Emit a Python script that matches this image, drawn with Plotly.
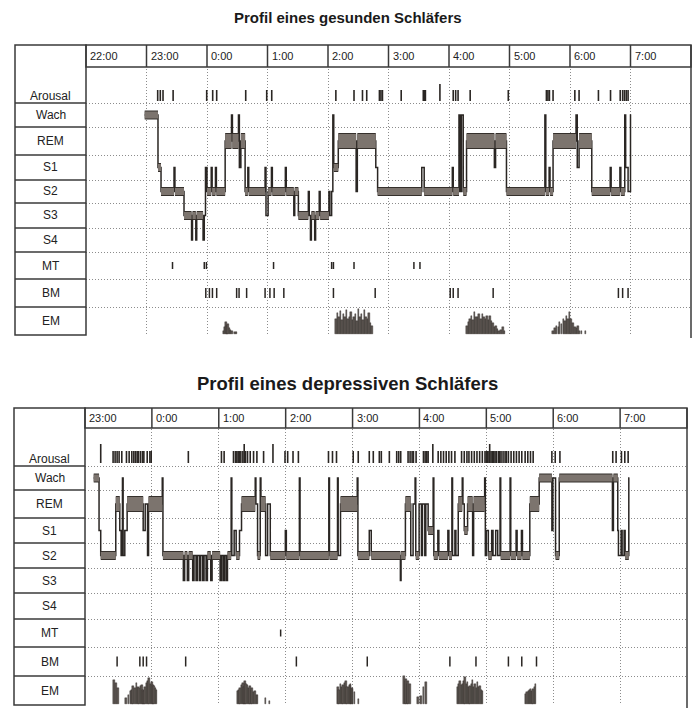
import plotly.graph_objects as go

# ======================= DATA =======================
row_names = ["Arousal", "Wach", "REM", "S1", "S2", "S3", "S4", "MT", "BM", "EM"]
stage_row = {"W": "Wach", "R": "REM", "S1": "S1", "S2": "S2", "S3": "S3", "S4": "S4"}

titles = ["Profil eines gesunden Schläfers", "Profil eines depressiven Schläfers"]

# ---- healthy sleeper (hours after midnight of previous day: 24 = 0:00) ----
h_hours = [22, 23, 24, 25, 26, 27, 28, 29, 30, 31]
h_hour_labels = ["22:00", "23:00", "0:00", "1:00", "2:00", "3:00", "4:00", "5:00", "6:00", "7:00"]

h_hyp_t = [22.97, 23.19, 23.24, 23.455, 23.47, 23.62, 23.745, 23.76, 23.815, 23.83,
           23.935, 23.955, 23.975, 24.00, 24.07, 24.085, 24.14, 24.155, 24.30, 24.405,
           24.42, 24.52, 24.535, 24.56, 24.63, 24.675, 24.69, 24.96, 24.975, 25.01,
           25.065, 25.08, 25.295, 25.31, 25.435, 25.45, 25.51, 25.675, 25.69, 25.71,
           25.725, 25.78, 25.795, 25.855, 25.87, 26.015, 26.03, 26.06, 26.08, 26.095,
           26.17, 26.465, 26.485, 26.79, 26.82, 27.55, 27.59, 28.055, 28.07, 28.165,
           28.18, 28.205, 28.235, 28.29, 28.75, 28.77, 28.95, 29.585, 29.60, 29.655,
           29.67, 29.72, 30.10, 30.12, 30.15, 30.36, 30.665, 30.68, 30.825, 30.84,
           30.905, 30.92, 30.96, 31.00]
h_hyp_s = ["W", "S1", "S2", "S1", "S2", "S3", "S4", "S3", "S4", "S3",
           "S4", "S3", "S1", "S2", "S1", "S2", "S1", "S2", "R", "W",
           "R", "W", "S1", "R", "S2", "S1", "S2", "S1", "S3", "S2",
           "S1", "S2", "S1", "S2", "S3", "S2", "S3", "S2", "S3", "S4",
           "S3", "S4", "S3", "S2", "S3", "S2", "S3", "S2", "W", "S1",
           "R", "S2", "R", "S1", "S2", "S1", "S2", "S1", "S2", "W",
           "S2", "W", "S2", "R", "S1", "R", "S2", "W", "S2", "S1",
           "S2", "R", "W", "S1", "R", "S2", "S1", "S2", "S1", "S2",
           "W", "S1", "S2", "W"]
h_hyp_end = 31.012

h_arousal = [23.185, 23.228, 23.273, 23.44, 23.995, 24.094, 24.16, 24.64, 24.987, 25.07,
             26.13, 26.43, 26.57, 26.64, 26.85, 26.875, 26.90, 27.21, 27.575, 27.595,
             27.61, 28.07, 28.11, 28.15, 28.35, 28.98, 29.61, 29.635, 29.66, 29.72,
             30.08, 30.15, 30.47, 30.67, 30.83, 30.87, 30.90, 30.93, 30.96]
h_arousal_tall = [27.85]
h_mt = [23.43, 23.955, 23.99, 25.10, 26.06, 26.09, 26.43, 27.42, 27.52]
h_bm = [23.98, 24.04, 24.09, 24.16, 24.49, 24.53, 24.655, 24.96, 25.04, 25.11, 25.27,
        26.09, 26.78, 28.02, 28.07, 28.15, 28.73, 30.80, 30.87, 30.96]
h_em_t = [24.27, 24.29, 24.31, 24.33, 24.35, 24.37, 24.39, 24.41, 24.46, 24.49,
          26.13, 26.155, 26.18, 26.205, 26.23, 26.255, 26.28, 26.305, 26.33, 26.355,
          26.38, 26.405, 26.43, 26.455, 26.48, 26.505, 26.53, 26.555, 26.58, 26.605,
          26.63, 26.655, 26.68, 26.705, 26.73,
          28.30, 28.325, 28.35, 28.375, 28.40, 28.425, 28.45, 28.475, 28.50, 28.525,
          28.55, 28.575, 28.60, 28.625, 28.65, 28.675, 28.70, 28.725, 28.75, 28.775,
          28.80, 28.83, 28.86, 28.89, 28.915,
          29.72, 29.75, 29.78, 29.81, 29.83, 29.86, 29.89, 29.915, 29.94, 29.965,
          29.99, 30.02, 30.05, 30.08, 30.11, 30.13, 30.16, 30.19, 30.26]
h_em_v = [0.12, 0.25, 0.42, 0.30, 0.36, 0.20, 0.14, 0.10, 0.08, 0.08,
          0.55, 0.75, 0.60, 0.82, 0.50, 0.70, 0.62, 0.85, 0.55, 0.60,
          0.78, 0.50, 0.62, 0.72, 0.45, 0.90, 0.60, 0.72, 0.50, 0.85,
          0.62, 0.55, 0.75, 0.40, 0.30,
          0.30, 0.42, 0.55, 0.65, 0.50, 0.77, 0.62, 0.60, 0.70, 0.55,
          0.71, 0.60, 0.54, 0.65, 0.50, 0.65, 0.48, 0.40, 0.24, 0.30,
          0.18, 0.12, 0.15, 0.24, 0.10,
          0.12, 0.20, 0.30, 0.25, 0.42, 0.35, 0.54, 0.45, 0.65, 0.55,
          0.80, 0.54, 0.40, 0.24, 0.20, 0.30, 0.10, 0.12, 0.10]

# ---- depressive sleeper ----
d_hours = [23, 24, 25, 26, 27, 28, 29, 30, 31]
d_hour_labels = ["23:00", "0:00", "1:00", "2:00", "3:00", "4:00", "5:00", "6:00", "7:00"]

d_hyp_t = [23.13, 23.21, 23.235, 23.46, 23.52, 23.54, 23.56, 23.57, 23.595, 23.63,
           23.87, 23.90, 23.935, 23.95, 24.155, 24.165,
           24.47, 24.49, 24.53, 24.55, 24.61, 24.63, 24.66, 24.68, 24.71, 24.73,
           24.76, 24.78, 24.81, 24.83, 24.88, 24.90, 25.02, 25.04, 25.065, 25.085,
           25.11, 25.13, 25.185, 25.195, 25.23, 25.26, 25.31, 25.34, 25.545, 25.555,
           25.58, 25.62, 25.63, 25.70, 25.73, 25.77, 25.995, 26.01, 26.205, 26.215,
           26.645, 26.655, 26.775, 26.785, 26.82, 27.07, 27.08, 27.25, 27.28, 27.715,
           27.725, 27.79, 27.87, 27.905, 27.935, 27.945, 27.995, 28.03, 28.045, 28.08,
           28.095, 28.13, 28.205, 28.215, 28.275, 28.29, 28.425, 28.44, 28.485, 28.495,
           28.53, 28.545, 28.58, 28.64, 28.65, 28.67, 28.72, 28.795, 28.81, 28.975,
           28.985, 29.00, 29.03, 29.08, 29.10, 29.14, 29.17, 29.205, 29.215, 29.355,
           29.365, 29.445, 29.46, 29.525, 29.54, 29.65, 29.79, 29.98, 29.995, 30.035,
           30.09, 30.885, 30.90, 30.965, 30.975, 31.015, 31.03, 31.06, 31.075, 31.13]
d_hyp_s = ["W", "S1", "S2", "R", "S1", "S2", "W", "S2", "S1", "R",
           "S1", "R", "S2", "R", "W", "S2",
           "S3", "S2", "S3", "S2", "S3", "S2", "S3", "S2", "S3", "S2",
           "S3", "S2", "S3", "S2", "S3", "S2", "S3", "S2", "S3", "S2",
           "S3", "S2", "W", "S2", "S1", "S2", "S1", "R", "W", "R",
           "S2", "W", "R", "S2", "R", "S2", "S1", "S2", "W", "S2",
           "W", "S2", "W", "S2", "R", "W", "S2", "S1", "S2", "S3",
           "S2", "R", "S2", "R", "W", "S2", "R", "S2", "R", "S2",
           "R", "S1", "W", "S2", "S1", "S2", "S1", "S2", "W", "S2",
           "S1", "S2", "R", "W", "R", "S1", "R", "S2", "R", "W",
           "S2", "S1", "S2", "S1", "S2", "S1", "S2", "W", "S2", "W",
           "S2", "S1", "S2", "S1", "S2", "R", "W", "S1", "W", "S2",
           "W", "S1", "W", "S1", "S2", "S1", "S2", "S1", "S2", "W"]
d_hyp_end = 31.14

d_arousal = [23.42, 23.45, 23.48, 23.51, 23.55, 23.62, 23.66, 23.70, 23.73, 23.755,
             23.78, 23.80, 23.83, 23.86, 23.88, 23.93, 23.97, 23.99, 24.545,
             25.04, 25.08, 25.22, 25.25, 25.27, 25.29, 25.31, 25.33, 25.36, 25.40,
             25.43, 25.47, 25.52, 25.57, 25.67, 25.99, 26.03, 26.11, 26.19,
             26.64, 26.70, 26.76, 27.01, 27.085, 27.25, 27.31, 27.40, 27.43, 27.55,
             27.66, 27.69, 27.72, 27.83, 27.86, 27.89, 27.91, 27.95, 28.06, 28.085,
             28.11, 28.13, 28.28, 28.32, 28.36, 28.40, 28.44, 28.48, 28.53,
             28.63, 28.67, 28.71, 28.74, 28.78, 28.82, 28.86, 28.90, 28.94,
             28.98, 29.00, 29.02, 29.04, 29.07, 29.09, 29.11, 29.13, 29.15, 29.18,
             29.20, 29.22, 29.25, 29.28, 29.30, 29.33, 29.37, 29.41, 29.45, 29.49,
             29.53, 29.58, 29.62, 29.66, 29.70, 29.98, 30.03, 30.10,
             30.89, 30.94, 31.02, 31.07, 31.12]
d_arousal_tall = [23.235, 25.38, 25.81, 28.20, 29.05]
d_mt = [25.925]
d_bm = [23.48, 23.82, 23.87, 23.92, 24.505, 26.16, 27.22, 28.455, 28.845, 29.33, 29.53, 29.75]
d_em_t = [23.43, 23.46, 23.49,
          23.61, 23.65, 23.68, 23.70, 23.72, 23.75, 23.77, 23.79, 23.81, 23.83,
          23.85, 23.87, 23.88, 23.90, 23.92, 23.94, 23.96, 23.98, 24.00, 24.02,
          24.03, 24.05, 24.07,
          25.28, 25.30, 25.32, 25.34, 25.36, 25.38, 25.39, 25.41, 25.43, 25.45,
          25.47, 25.49, 25.50, 25.52, 25.54, 25.56, 25.58, 25.70, 25.755,
          26.78, 26.80, 26.82, 26.84, 26.86, 26.88, 26.90, 26.92, 26.94, 26.96,
          26.97, 26.99, 27.00, 27.03, 27.085,
          27.77, 27.79, 27.80, 27.82, 27.83, 27.86, 27.98, 28.02, 28.06, 28.10,
          28.565, 28.585, 28.605, 28.625, 28.645, 28.665, 28.68, 28.70, 28.72, 28.74,
          28.755, 28.775, 28.795, 28.81, 28.83, 28.85, 28.865, 28.885, 28.905, 28.925,
          28.945,
          29.587, 29.607, 29.627, 29.645, 29.66, 29.68, 29.70, 29.72, 29.735]
d_em_v = [0.83, 0.72, 0.55,
          0.20, 0.32, 0.44, 0.50, 0.61, 0.55, 0.72, 0.60, 0.55, 0.62,
          0.67, 0.50, 0.44, 0.60, 0.72, 0.80, 0.90, 0.70, 0.76, 0.65,
          0.61, 0.55, 0.50,
          0.44, 0.50, 0.55, 0.65, 0.72, 0.60, 0.78, 0.70, 0.67, 0.55,
          0.61, 0.50, 0.55, 0.40, 0.44, 0.30, 0.32, 0.20, 0.12,
          0.60, 0.50, 0.70, 0.60, 0.65, 0.72, 0.78, 0.60, 0.57, 0.65,
          0.70, 0.55, 0.52, 0.40, 0.17,
          0.95, 0.80, 0.86, 0.70, 0.80, 0.69, 0.23, 0.29, 0.57, 0.75,
          0.57, 0.70, 0.80, 0.65, 0.69, 0.80, 0.92, 0.70, 0.75, 0.60,
          0.63, 0.70, 0.83, 0.60, 0.69, 0.55, 0.75, 0.60, 0.63, 0.50,
          0.46,
          0.34, 0.40, 0.46, 0.50, 0.52, 0.45, 0.52, 0.60, 0.69]

# ======================= LAYOUT / STYLE =======================
W, H = 695, 722
INK = "#2a2623"
BAND_EDGE = "#35302c"
BAND_FILL = "#7c746e"
FRAME = "#3a3a3a"
GRID = "#8c8c8c"
GRID_DASH = "1px,2px"
FONT = "Liberation Sans, Arial, sans-serif"

panels = [
    dict(top=45, edges=[67, 103, 127, 155, 180, 203, 228, 252, 279, 307, 335],
         left=15, col=86, right=691, xr=[22, 32], title_y=18, title_size=15,
         ar=(2, 13, 19), em_w=0.025),
    dict(top=408, edges=[428, 466, 490, 518, 543, 568, 593, 619, 647, 676, 705],
         left=14, col=85, right=687, xr=[23, 32], title_y=383, title_size=18.5,
         ar=(3, 15, 22), em_w=0.022),
]

datasets = [
    dict(hours=h_hours, labels=h_hour_labels, t=h_hyp_t, s=h_hyp_s, end=h_hyp_end,
         ar=h_arousal, ar_tall=h_arousal_tall, mt=h_mt, bm=h_bm, em_t=h_em_t, em_v=h_em_v),
    dict(hours=d_hours, labels=d_hour_labels, t=d_hyp_t, s=d_hyp_s, end=d_hyp_end,
         ar=d_arousal, ar_tall=d_arousal_tall, mt=d_mt, bm=d_bm, em_t=d_em_t, em_v=d_em_v),
]


def px(x):
    return x / W


def py(y):
    return 1 - y / H


def center(p, name):
    i = row_names.index(name)
    e = p["edges"]
    return (e[i] + e[i + 1]) / 2


def tick_xy(times, y0, y1):
    xs, ys = [], []
    for t in times:
        xs += [t, t, None]
        ys += [y0, y1, None]
    return xs, ys


fig = go.Figure()
shapes, annotations = [], []
layout_axes = {}

for k, (p, d) in enumerate(zip(panels, datasets), start=1):
    xa = "x" if k == 1 else f"x{k}"
    ya = "y" if k == 1 else f"y{k}"
    e = p["edges"]
    common = dict(xaxis=xa, yaxis=ya, hoverinfo="skip", showlegend=False)

    # --- hypnogram thin step line ---
    ys = [center(p, stage_row[s]) for s in d["s"]]
    fig.add_trace(go.Scatter(x=d["t"] + [d["end"]], y=ys + [ys[-1]], mode="lines",
                             line=dict(shape="hv", color=INK, width=1.5), **common))
    # --- hypnogram bands ---
    for rem in (False, True):
        bx, by = [], []
        for i, (t, s) in enumerate(zip(d["t"], d["s"])):
            t1 = d["t"][i + 1] if i + 1 < len(d["t"]) else d["end"]
            if t1 - t < 0.04 or (s == "R") != rem:
                continue
            yc = center(p, stage_row[s])
            bx += [t, t1, None]
            by += [yc, yc, None]
        w = 14 if rem else 7
        fig.add_trace(go.Scatter(x=bx, y=by, mode="lines",
                                 line=dict(color=BAND_EDGE, width=w + 2), **common))
        fig.add_trace(go.Scatter(x=bx, y=by, mode="lines",
                                 line=dict(color=BAND_FILL, width=w), **common))

    # --- arousal ticks ---
    b0, b1, b2 = p["ar"]
    xs, yv = tick_xy(d["ar"], e[1] - b0, e[1] - b1)
    fig.add_trace(go.Scatter(x=xs, y=yv, mode="lines", line=dict(color=INK, width=1.6), **common))
    xs, yv = tick_xy(d["ar_tall"], e[1] - b0, e[1] - b2)
    fig.add_trace(go.Scatter(x=xs, y=yv, mode="lines", line=dict(color=INK, width=1.6), **common))
    # --- MT / BM ticks ---
    c = center(p, "MT")
    xs, yv = tick_xy(d["mt"], c - 3.5, c + 3.5)
    fig.add_trace(go.Scatter(x=xs, y=yv, mode="lines", line=dict(color=INK, width=1.5), **common))
    c = center(p, "BM")
    xs, yv = tick_xy(d["bm"], c - 5, c + 5)
    fig.add_trace(go.Scatter(x=xs, y=yv, mode="lines", line=dict(color=INK, width=1.5), **common))
    # --- EM bars ---
    em_h = e[10] - e[9]
    fig.add_trace(go.Bar(x=d["em_t"], y=[-v * em_h for v in d["em_v"]], base=e[10] - 1,
                         width=p["em_w"], marker=dict(color="#5e5752",
                                                      line=dict(color=INK, width=0.4)),
                         **common))

    # --- axes ---
    layout_axes["xaxis" if k == 1 else f"xaxis{k}"] = dict(
        domain=[px(p["col"]), px(p["right"])], range=p["xr"], anchor=ya,
        tickvals=d["hours"], showticklabels=False, ticks="", showline=False,
        zeroline=False, showgrid=True, gridcolor=GRID, griddash=GRID_DASH, gridwidth=1)
    layout_axes["yaxis" if k == 1 else f"yaxis{k}"] = dict(
        domain=[py(e[-1]), py(p["top"])], range=[e[-1], p["top"]], anchor=xa,
        tickvals=e[1:], showticklabels=False, ticks="", showline=False,
        zeroline=False, showgrid=True, gridcolor=GRID, griddash=GRID_DASH, gridwidth=1)

    # --- frame shapes ---
    line = dict(color=FRAME, width=1.5)
    # label column box
    shapes.append(dict(type="rect", xref="paper", yref="paper", x0=px(p["left"]), x1=px(p["col"]),
                       y0=py(e[-1]), y1=py(p["top"]), line=line, layer="above"))
    for yb in e[1:-1]:
        shapes.append(dict(type="line", xref="paper", yref="paper", x0=px(p["left"]), x1=px(p["col"]),
                           y0=py(yb), y1=py(yb), line=line, layer="above"))
    # header box
    shapes.append(dict(type="rect", xref="paper", yref="paper", x0=px(p["col"]), x1=px(p["right"]),
                       y0=py(e[0]), y1=py(p["top"]), line=line, fillcolor="white", layer="above"))
    for hr in d["hours"]:
        shapes.append(dict(type="line", xref=xa, yref="paper", x0=hr, x1=hr,
                           y0=py(e[0]), y1=py(p["top"]), line=line, layer="above"))
    # right border
    shapes.append(dict(type="line", xref="paper", yref="paper", x0=px(p["right"]), x1=px(p["right"]),
                       y0=py(e[-1] + 3), y1=py(p["top"]), line=line, layer="above"))

    # --- text ---
    for hr, lab in zip(d["hours"], d["labels"]):
        annotations.append(dict(x=hr, y=(p["top"] + e[0]) / 2, xref=xa, yref=ya, text=lab,
                                showarrow=False, xanchor="left", yanchor="middle", xshift=2,
                                font=dict(family=FONT, size=11, color="#222")))
    for i, name in enumerate(row_names):
        yl = e[1] - 7 if name == "Arousal" else (e[i] + e[i + 1]) / 2
        annotations.append(dict(x=px((p["left"] + p["col"]) / 2), y=yl, xref="paper", yref=ya,
                                text=name, showarrow=False, xanchor="center", yanchor="middle",
                                font=dict(family=FONT, size=12, color="#222")))
    annotations.append(dict(x=0.5, y=py(p["title_y"]), xref="paper", yref="paper",
                            text="<b>" + titles[k - 1] + "</b>", showarrow=False,
                            xanchor="center", yanchor="middle",
                            font=dict(family=FONT, size=p["title_size"], color="#1a1a1a")))

fig.update_layout(
    width=W, height=H, margin=dict(l=0, r=0, t=0, b=0),
    paper_bgcolor="white", plot_bgcolor="white",
    barmode="overlay", bargap=0, showlegend=False,
    shapes=shapes, annotations=annotations, **layout_axes)

fig.write_html("out.html")
